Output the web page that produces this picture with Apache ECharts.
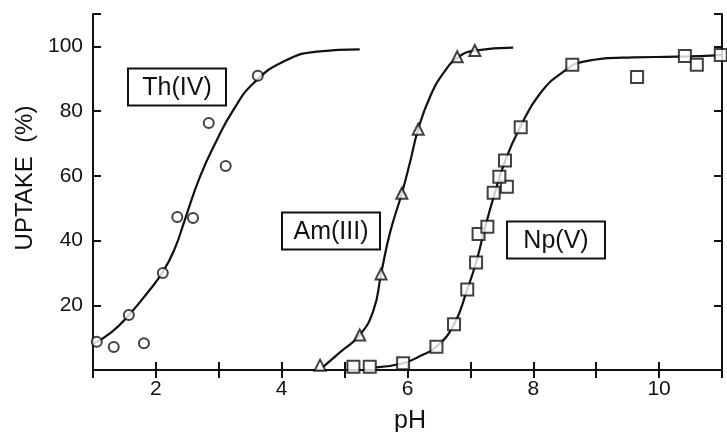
<!DOCTYPE html>
<html>
<head>
<meta charset="utf-8">
<script src="https://cdn.jsdelivr.net/npm/echarts@6/dist/echarts.min.js"></script>
<style>html,body{margin:0;padding:0;background:#fff}#c{width:727px;height:432px}</style>
</head>
<body>
<div id="c"></div>
<script>
// Measured points [pH, uptake %]
var thPoints = [[3.62,90.9],[2.84,76.3],[3.11,63.0],[2.34,47.3],[2.59,47.0],[2.11,30.0],[1.57,17.0],[1.06,8.7],[1.33,7.1],[1.81,8.3]];
var thCurve = [[1.0,8.0],[1.3,11.8],[1.57,17],[1.85,23.5],[2.11,30.3],[2.3,37.5],[2.46,46.4],[2.7,59.7],[2.97,71.1],[3.23,80.3],[3.55,88.6],[4.03,95.3],[4.56,98.4],[5.24,99.1]];
var amPoints = [[4.61,1.5],[5.24,10.8],[5.58,29.7],[5.91,54.6],[6.17,74.4],[6.79,96.8],[7.07,98.7]];
var amCurve = [[4.65,0.8],[4.93,5.5],[5.24,10.8],[5.46,18.5],[5.58,29.7],[5.72,42.3],[5.91,54.6],[6.04,64.2],[6.17,74.4],[6.36,84.5],[6.57,91.7],[6.79,96.4],[7.07,98.7],[7.68,99.6]];
var npPoints = [[5.14,1.0],[5.40,1.0],[5.93,2.1],[6.46,7.2],[6.74,14.1],[6.95,24.9],[7.09,33.2],[7.13,42.0],[7.27,44.3],[7.37,54.8],[7.58,56.6],[7.46,59.7],[7.55,64.7],[7.80,75.0],[8.62,94.3],[9.65,90.5],[10.41,97.0],[10.60,94.3],[10.98,97.3]];
var npCurve = [[5.5,0.8],[5.93,2.1],[6.2,4.3],[6.46,7.2],[6.74,14.1],[6.95,24.9],[7.09,33.2],[7.22,43],[7.37,53.5],[7.55,64.5],[7.79,75],[8.11,85.5],[8.48,92.2],[8.8,95.3],[9.59,96.6],[10.28,96.8],[11,97.3]];
var boxNames = ['Th(IV)', 'Am(III)', 'Np(V)'];
var boxAnchors = [[2.33,87.4],[4.79,42.8],[8.36,40.3]];
var xTickLabels = [2,4,6,8,10];
var yTickLabels = [20,40,60,80,100];

var ink = '#111';
var font = 'Liberation Sans, Arial, Helvetica, sans-serif';
var chart = echarts.init(document.getElementById('c'), null, {renderer:'canvas'});

function curve(d){
  return {type:'line', data:d, showSymbol:false, smooth:0.5, z:2,
    lineStyle:{color:ink, width:2.2}, silent:true, animation:false};
}
function pts(d, sym, size){
  return {type:'scatter', data:d, symbol:sym, symbolSize:size, z:3,
    itemStyle:{color:'#fff', borderColor:ink, borderWidth:2}, animation:false};
}
var axisLine = {show:true, lineStyle:{color:ink, width:2}};
chart.setOption({
  backgroundColor:'#fff',
  animation:false,
  grid:{left:93, right:5, top:14, bottom:62, containLabel:false},
  xAxis:[{
    type:'value', min:1, max:11, interval:1, position:'bottom',
    axisLine:axisLine, splitLine:{show:false},
    axisTick:{show:true, inside:true, length:8, lineStyle:{color:ink, width:2}},
    axisLabel:{color:ink, fontSize:21, fontFamily:font, margin:9,
      formatter:function(v){return xTickLabels.indexOf(v)>=0 ? String(v) : '';}}
  },{
    type:'value', min:1, max:11, interval:1, position:'top',
    axisLine:axisLine, splitLine:{show:false},
    axisTick:{show:true, inside:true, length:8, lineStyle:{color:ink, width:2}},
    axisLabel:{show:false}
  }],
  yAxis:[{
    type:'value', min:0, max:110, interval:20, position:'left',
    axisLine:axisLine, splitLine:{show:false},
    axisTick:{show:true, inside:true, length:8, lineStyle:{color:ink, width:2}},
    axisLabel:{color:ink, fontSize:21, fontFamily:font, margin:10,
      formatter:function(v){return yTickLabels.indexOf(v)>=0 ? String(v) : '';}}
  },{
    type:'value', min:0, max:110, interval:20, position:'right',
    axisLine:axisLine, splitLine:{show:false},
    axisTick:{show:true, inside:true, length:8, lineStyle:{color:ink, width:2}},
    axisLabel:{show:false}
  }],
  series:[
    curve(thCurve), curve(amCurve), curve(npCurve),
    pts(thPoints,'circle',10), pts(amPoints,'triangle',11), pts(npPoints,'rect',12)
  ]
});

var boxW = 98, boxH = 37;
var graphics = [
  {type:'text', x:25, y:178, rotation:Math.PI/2, style:{text:'UPTAKE  (%)', fill:ink, fontSize:24, fontFamily:font, align:'center', verticalAlign:'middle'}},
  {type:'text', x:410, y:421, style:{text:'pH', fill:ink, fontSize:25, fontFamily:font, align:'center', verticalAlign:'middle'}}
];
boxNames.forEach(function(n, i){
  var p = chart.convertToPixel({gridIndex:0}, boxAnchors[i]);
  var cx = Math.round(p[0]), cy = Math.round(p[1]);
  graphics.push({type:'rect', z:10, shape:{x:cx - boxW/2, y:cy - boxH/2, width:boxW, height:boxH},
    style:{fill:'#fff', stroke:ink, lineWidth:2}});
  graphics.push({type:'text', z:11, x:cx, y:cy+1, style:{text:n, fill:ink, fontSize:25, fontFamily:font, align:'center', verticalAlign:'middle'}});
});
chart.setOption({graphic:graphics});
</script>
</body>
</html>
